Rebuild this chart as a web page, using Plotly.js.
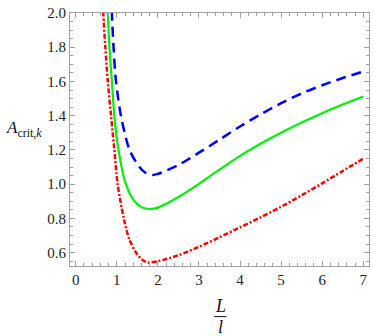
<!DOCTYPE html>
<html>
<head>
<meta charset="utf-8">
<script src="https://cdn.plot.ly/plotly-3.0.1.min.js"></script>
<style>
html,body{margin:0;padding:0;background:#fff;}
#chart{width:374px;height:336px;}
#chart svg text{font-family:"Liberation Serif","Times New Roman","DejaVu Serif",serif !important;}
</style>
</head>
<body>
<div id="chart"></div>
<script>
// Blue dashed curve
const blueX = [0.85, 0.88, 0.92, 0.98, 1.1, 1.31, 1.55, 1.7, 1.87, 2.0, 2.5, 3.0, 3.5, 4.0, 4.5, 5.0, 5.5, 6.0, 6.5, 7.0];
const blueY = [2.2, 2.0, 1.8, 1.6, 1.4, 1.2, 1.1, 1.066, 1.054, 1.06, 1.112, 1.184, 1.26, 1.337, 1.408, 1.473, 1.53, 1.578, 1.62, 1.658];
// Green solid curve
const greenX = [0.74, 0.78, 0.82, 0.88, 0.94, 1.04, 1.22, 1.43, 1.6, 1.8, 2.0, 2.5, 3.0, 3.5, 4.0, 4.5, 5.0, 5.5, 6.0, 6.5, 7.0];
const greenY = [2.2, 2.0, 1.8, 1.6, 1.4, 1.2, 1.0, 0.9, 0.866, 0.855, 0.863, 0.925, 1.002, 1.085, 1.165, 1.236, 1.30, 1.36, 1.415, 1.465, 1.512];
// Red dash-dot curve
const redX = [0.64, 0.67, 0.72, 0.78, 0.86, 0.94, 1.02, 1.17, 1.3, 1.47, 1.6, 1.75, 2.0, 2.5, 3.0, 3.5, 4.0, 4.5, 5.0, 5.5, 6.0, 6.5, 7.0];
const redY = [2.2, 2.0, 1.8, 1.6, 1.4, 1.2, 1.0, 0.8, 0.68, 0.6, 0.562, 0.543, 0.55, 0.585, 0.634, 0.69, 0.748, 0.806, 0.868, 0.935, 1.005, 1.077, 1.149];

const xTicks = [0, 1, 2, 3, 4, 5, 6, 7];
const xTickLabels = ["0", "1", "2", "3", "4", "5", "6", "7"];
const yTicks = [0.6, 0.8, 1.0, 1.2, 1.4, 1.6, 1.8, 2.0];
const yTickLabels = ["0.6", "0.8", "1.0", "1.2", "1.4", "1.6", "1.8", "2.0"];

const SERIF = 'Liberation Serif, Times New Roman, DejaVu Serif, serif';

const traces = [
  {x: blueX, y: blueY, mode: 'lines', line: {color: '#0000ff', width: 2.5, dash: '10px,6px', shape: 'spline', smoothing: 0.8}},
  {x: greenX, y: greenY, mode: 'lines', line: {color: '#00f000', width: 2.2, shape: 'spline', smoothing: 0.8}},
  {x: redX, y: redY, mode: 'lines', line: {color: '#ff0000', width: 2.5, dash: '5px,2px,2px,2px', shape: 'spline', smoothing: 0.8}}
];

const axisCommon = {
  showgrid: false, zeroline: false, showline: true, linecolor: '#a0a0a0', linewidth: 1,
  mirror: 'ticks', ticks: 'inside', ticklen: 5, tickcolor: '#a0a0a0', tickwidth: 1,
  tickfont: {family: SERIF, size: 15, color: '#222'}
};

const layout = {
  width: 374, height: 336,
  margin: {l: 70, r: 5, t: 13, b: 70},
  paper_bgcolor: '#fff', plot_bgcolor: '#fff',
  showlegend: false,
  font: {family: SERIF},
  xaxis: Object.assign({}, axisCommon, {
    range: [-0.14, 7.14], tickmode: 'array', tickvals: xTicks, ticktext: xTickLabels,
    minor: {ticks: 'inside', ticklen: 3, dtick: 0.2, tick0: 0, tickcolor: '#a0a0a0', tickwidth: 1}
  }),
  yaxis: Object.assign({}, axisCommon, {
    range: [0.522, 2.0], tickmode: 'array', tickvals: yTicks, ticktext: yTickLabels,
    minor: {ticks: 'inside', ticklen: 3, dtick: 0.05, tick0: 0, tickcolor: '#a0a0a0', tickwidth: 1}
  }),
  annotations: [
    {xref: 'paper', yref: 'y', x: -0.155, y: 1.32, showarrow: false, xanchor: 'center', yanchor: 'middle',
     text: '<i>A</i><sub>crit,<i>k</i></sub>', font: {family: SERIF, size: 17, color: '#111'}},
    {xref: 'x', yref: 'paper', x: 3.52, y: -0.16, showarrow: false, xanchor: 'center', yanchor: 'middle',
     text: '<i>L</i>', font: {family: SERIF, size: 18, color: '#111'}},
    {xref: 'x', yref: 'paper', x: 3.52, y: -0.24, showarrow: false, xanchor: 'center', yanchor: 'middle',
     text: '<i>l</i>', font: {family: SERIF, size: 18, color: '#111'}}
  ],
  shapes: [
    {type: 'line', xref: 'x', yref: 'paper', x0: 3.37, x1: 3.67, y0: -0.2, y1: -0.2, line: {color: '#111', width: 1}}
  ]
};

Plotly.newPlot('chart', traces, layout, {staticPlot: true, displayModeBar: false});
</script>
</body>
</html>
